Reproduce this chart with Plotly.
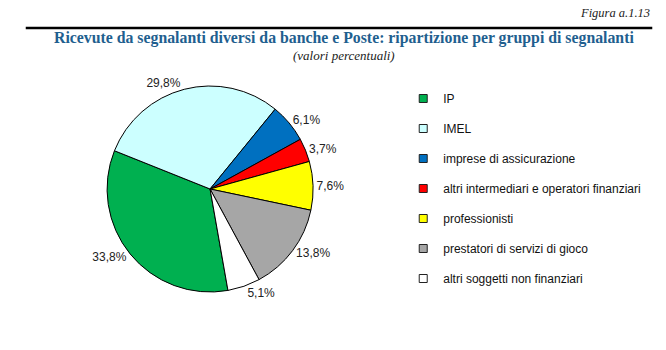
import plotly.graph_objects as go

categories = ["IP", "IMEL", "imprese di assicurazione",
              "altri intermediari e operatori finanziari", "professionisti",
              "prestatori di servizi di gioco", "altri soggetti non finanziari"]
values = [33.8, 29.8, 6.1, 3.7, 7.6, 13.8, 5.1]
colors = ["#00B050", "#CCFFFF", "#0070C0", "#FF0000", "#FFFF00", "#A6A6A6", "#FFFFFF"]

fig = go.Figure()
fig.add_trace(go.Pie(
    labels=categories, values=values, sort=False, direction="clockwise",
    rotation=170,
    marker=dict(colors=colors, line=dict(color="black", width=1)),
    texttemplate="%{value:.1f}%", textposition="outside",
    textfont=dict(family="Liberation Sans, Arial", size=12, color="#222222"),
    showlegend=False, hoverinfo="label+value",
    domain=dict(x=[51/666, 351/666], y=[1-292/350, 1-86/350]),
))

for cat, col in zip(categories, colors):
    fig.add_trace(go.Scatter(
        x=[None], y=[None], mode="markers", name=cat, legendgroup=cat,
        marker=dict(symbol="square", size=8, color=col, line=dict(color="#222222", width=1)),
    ))

fig.update_layout(
    width=666, height=350, margin=dict(l=0, r=0, t=0, b=0),
    paper_bgcolor="white", plot_bgcolor="white", separators=",.",
    xaxis=dict(visible=False), yaxis=dict(visible=False),
    legend=dict(x=398/666, y=1-84/350, xanchor="left", yanchor="top",
                font=dict(family="Liberation Sans, Arial", size=12, color="#111111"),
                tracegroupgap=11, itemwidth=30, bgcolor="rgba(0,0,0,0)"),
    shapes=[dict(type="line", xref="paper", yref="paper", x0=13/666, x1=652/666,
                 y0=1-28/350, y1=1-28/350, line=dict(color="black", width=2.5))],
    annotations=[
        dict(text="<i>Figura a.1.13</i>", xref="paper", yref="paper", x=652/666, y=1-13/350,
             xanchor="right", yanchor="middle", showarrow=False,
             font=dict(family="Liberation Serif, serif", size=12.5, color="#222222")),
        dict(text="<b>Ricevute da segnalanti diversi da banche e Poste: ripartizione per gruppi di segnalanti</b>",
             xref="paper", yref="paper", x=338/666, y=1-38/350, xanchor="center", yanchor="middle",
             showarrow=False, font=dict(family="Liberation Serif, serif", size=15.8, color="#1F5F8F")),
        dict(text="<i>(valori percentuali)</i>", xref="paper", yref="paper", x=338/666, y=1-55/350,
             xanchor="center", yanchor="middle", showarrow=False,
             font=dict(family="Liberation Serif, serif", size=13, color="#222222")),
    ],
)

fig.write_html("out.html")
